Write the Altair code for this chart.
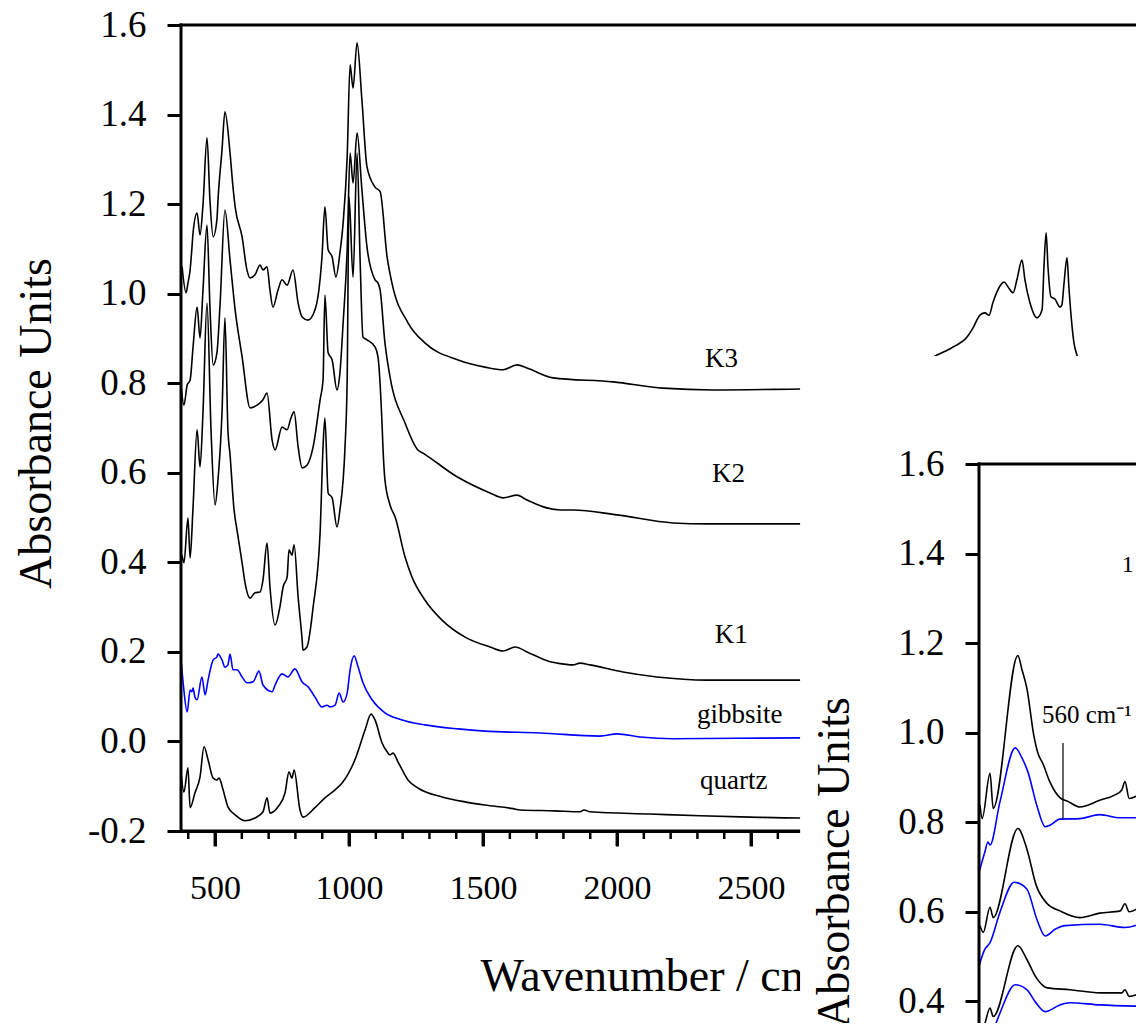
import altair as alt
import pandas as pd

FONT = "Liberation Serif"

# ---------------- main panel spectra: (wavenumber / cm-1, absorbance) ----------------
K3 = [(377, 1.060), (392, 1.002), (399, 1.024), (407, 1.053), (414, 1.104), (418, 1.136), (433, 1.180),
      (444, 1.131), (455, 1.198), (470, 1.348), (481, 1.209), (493, 1.127), (507, 1.165), (511, 1.209),
      (526, 1.321), (537, 1.406), (556, 1.314), (567, 1.238), (575, 1.194), (601, 1.127), (619, 1.053),
      (631, 1.035), (649, 1.042), (668, 1.064), (679, 1.053), (694, 1.060), (705, 1.008), (716, 0.970),
      (735, 1.008), (750, 1.031), (769, 1.019), (791, 1.053), (810, 0.979), (825, 0.948), (847, 0.941),
      (873, 0.964), (884, 0.993), (899, 1.082), (910, 1.194), (922, 1.098), (937, 1.082), (951, 1.037),
      (966, 1.091), (978, 1.158), (993, 1.305), (1004, 1.511), (1015, 1.459), (1030, 1.560), (1048, 1.433),
      (1067, 1.283), (1097, 1.238), (1116, 1.228), (1142, 1.082), (1160, 1.024), (1220, 0.935), (1283, 0.890),
      (1407, 0.852), (1507, 0.836), (1575, 0.830), (1627, 0.841), (1664, 0.834), (1761, 0.812), (1985, 0.803),
      (2172, 0.789), (2358, 0.785), (2683, 0.787), (2944, 0.789), (3194, 0.863), (3254, 0.881), (3306, 0.903),
      (3328, 0.923), (3354, 0.952), (3373, 0.957), (3388, 0.952), (3403, 0.981), (3429, 1.017), (3444, 1.026),
      (3459, 1.015), (3478, 1.002), (3492, 1.031), (3511, 1.075), (3522, 1.031), (3541, 0.979), (3567, 0.946),
      (3586, 0.964), (3593, 1.060), (3601, 1.136), (3608, 1.060), (3619, 0.993), (3634, 0.988), (3653, 0.970),
      (3660, 0.975), (3668, 1.024), (3679, 1.080), (3686, 1.015), (3698, 0.926), (3705, 0.890), (3716, 0.863),
      (3765, 0.774), (3877, 0.774)]

K2 = [(373, 0.796), (384, 0.751), (396, 0.796), (407, 0.807), (418, 0.881), (433, 0.970), (444, 0.901),
      (455, 1.008), (470, 1.153), (481, 0.970), (493, 0.841), (507, 0.868), (519, 0.979), (537, 1.187),
      (556, 1.075), (575, 0.964), (601, 0.859), (631, 0.745), (657, 0.751), (679, 0.763), (694, 0.778),
      (713, 0.673), (724, 0.651), (750, 0.702), (769, 0.696), (783, 0.722), (795, 0.736), (810, 0.658),
      (825, 0.611), (843, 0.617), (866, 0.658), (892, 0.763), (903, 0.807), (910, 0.997), (922, 0.868),
      (937, 0.852), (955, 0.785), (966, 0.823), (978, 0.935), (993, 1.098), (1004, 1.314), (1015, 1.247),
      (1030, 1.359), (1048, 1.232), (1067, 1.104), (1097, 1.031), (1108, 1.024), (1116, 1.008), (1134, 0.890),
      (1153, 0.814), (1209, 0.711), (1257, 0.651), (1276, 0.644), (1403, 0.591), (1526, 0.555), (1575, 0.544),
      (1627, 0.550), (1664, 0.539), (1787, 0.517), (1836, 0.517), (2000, 0.506), (2209, 0.488), (2336, 0.486),
      (2683, 0.486), (2870, 0.486)]

K1 = [(377, 0.416), (384, 0.399), (399, 0.499), (407, 0.410), (418, 0.524), (433, 0.696), (444, 0.613),
      (455, 0.734), (470, 0.979), (485, 0.696), (500, 0.528), (511, 0.584), (526, 0.734), (537, 0.946),
      (548, 0.696), (556, 0.640), (571, 0.517), (582, 0.472), (601, 0.399), (612, 0.354), (631, 0.320),
      (649, 0.332), (668, 0.334), (679, 0.361), (694, 0.443), (705, 0.345), (724, 0.260), (742, 0.300),
      (754, 0.345), (769, 0.367), (776, 0.428), (787, 0.416), (795, 0.439), (810, 0.323), (825, 0.227),
      (828, 0.204), (843, 0.211), (866, 0.300), (892, 0.466), (903, 0.658), (910, 0.722), (922, 0.555),
      (937, 0.544), (955, 0.479), (966, 0.517), (985, 0.658), (993, 0.807), (1000, 1.216), (1015, 1.037),
      (1030, 1.314), (1041, 1.082), (1052, 0.903), (1067, 0.897), (1097, 0.881), (1108, 0.859), (1123, 0.711),
      (1127, 0.651), (1134, 0.584), (1153, 0.528), (1172, 0.501), (1209, 0.412), (1235, 0.367), (1283, 0.316),
      (1347, 0.271), (1433, 0.233), (1526, 0.211), (1575, 0.202), (1620, 0.211), (1664, 0.200), (1750, 0.178),
      (1776, 0.175), (1836, 0.171), (1862, 0.175), (1899, 0.171), (2022, 0.155), (2149, 0.144), (2336, 0.137),
      (2683, 0.137), (2870, 0.137)]

GIBBSITE = [(373, 0.182), (381, 0.131), (396, 0.066), (407, 0.115), (414, 0.111), (418, 0.119), (425, 0.099),
            (433, 0.093), (451, 0.144), (463, 0.104), (474, 0.137), (493, 0.182), (507, 0.189), (511, 0.195),
            (526, 0.182), (537, 0.166), (548, 0.171), (556, 0.195), (567, 0.160), (582, 0.160), (601, 0.144),
            (619, 0.131), (642, 0.133), (664, 0.157), (679, 0.126), (713, 0.111), (724, 0.126), (750, 0.151),
            (772, 0.144), (798, 0.162), (825, 0.133), (847, 0.122), (873, 0.099), (899, 0.077), (918, 0.081),
            (929, 0.077), (948, 0.081), (963, 0.108), (978, 0.088), (993, 0.108), (1004, 0.160), (1019, 0.191),
            (1034, 0.166), (1052, 0.131), (1086, 0.093), (1134, 0.064), (1198, 0.048), (1283, 0.037),
            (1407, 0.028), (1507, 0.023), (1713, 0.019), (1936, 0.012), (2000, 0.017), (2086, 0.010),
            (2209, 0.006), (2683, 0.008), (2870, 0.008)]

QUARTZ = [(373, -0.070), (384, -0.113), (399, -0.059), (407, -0.148), (425, -0.115), (444, -0.079),
          (459, -0.012), (474, -0.041), (493, -0.082), (507, -0.086), (515, -0.082), (530, -0.108),
          (548, -0.146), (575, -0.164), (612, -0.177), (649, -0.171), (679, -0.157), (694, -0.126),
          (705, -0.160), (735, -0.146), (761, -0.115), (776, -0.068), (787, -0.082), (795, -0.064),
          (817, -0.153), (828, -0.169), (873, -0.148), (910, -0.126), (948, -0.108), (974, -0.093),
          (1022, -0.041), (1060, 0.026), (1082, 0.061), (1097, 0.048), (1123, -0.003), (1142, -0.023),
          (1153, -0.030), (1164, -0.026), (1183, -0.046), (1220, -0.086), (1257, -0.104), (1347, -0.124),
          (1433, -0.135), (1507, -0.142), (1612, -0.150), (1638, -0.153), (1768, -0.155), (1862, -0.157),
          (1877, -0.153), (1899, -0.157), (2123, -0.162), (2310, -0.166), (2496, -0.169), (2683, -0.171),
          (2870, -0.171)]

LABEL_TEXT = ["K3", "K2", "K1", "gibbsite", "quartz"]
LABEL_WN = [2328, 2354, 2365, 2298, 2310]
LABEL_AB = [0.836, 0.580, 0.220, 0.041, -0.106]

MAIN_Y_TICKS = [-0.2, 0.0, 0.2, 0.4, 0.6, 0.8, 1.0, 1.2, 1.4, 1.6]
MAIN_X_MAJOR = [500, 1000, 1500, 2000, 2500]
MAIN_X_MINOR = [400, 600, 700, 800, 900, 1100, 1200, 1300, 1400, 1600, 1700, 1800, 1900,
                2100, 2200, 2300, 2400, 2600]

# ---------------- second (overlapping) panel ----------------
P2_BLACK_A = [(402, 0.838), (406, 0.808), (421, 0.909), (427, 0.831), (474, 1.172), (482, 1.140), (491, 1.100),
              (505, 0.990), (512, 0.955), (522, 0.930), (535, 0.890), (545, 0.868), (554, 0.855), (570, 0.846),
              (592, 0.834), (630, 0.849), (659, 0.861), (672, 0.872), (678, 0.891), (686, 0.853), (697, 0.857),
              (714, 0.872)]
P2_BLUE_A = [(400, 0.688), (411, 0.733), (417, 0.756), (421, 0.749), (440, 0.846), (469, 0.966), (482, 0.943),
             (493, 0.913), (510, 0.838), (526, 0.790), (535, 0.793), (554, 0.807), (592, 0.808), (630, 0.817),
             (669, 0.810), (714, 0.810)]
P2_BLACK_B = [(402, 0.569), (408, 0.554), (421, 0.610), (427, 0.587), (474, 0.786), (491, 0.741), (509, 0.659),
              (530, 0.618), (554, 0.602), (592, 0.587), (630, 0.597), (669, 0.602), (678, 0.618), (686, 0.600),
              (714, 0.618)]
P2_BLUE_B = [(400, 0.479), (411, 0.516), (421, 0.531), (440, 0.599), (467, 0.666), (491, 0.651), (510, 0.584),
             (526, 0.546), (545, 0.561), (564, 0.569), (630, 0.572), (678, 0.565), (714, 0.576)]
P2_BLACK_C = [(402, 0.351), (408, 0.344), (421, 0.385), (427, 0.366), (474, 0.524), (491, 0.494), (509, 0.453),
              (530, 0.430), (573, 0.426), (630, 0.419), (672, 0.419), (678, 0.426), (686, 0.411), (714, 0.422)]
P2_BLUE_C = [(410, 0.280), (425, 0.327), (440, 0.374), (469, 0.437), (491, 0.426), (509, 0.396), (526, 0.377),
             (554, 0.392), (573, 0.397), (630, 0.392), (714, 0.389)]
P2_Y_TICKS = [0.4, 0.6, 0.8, 1.0, 1.2, 1.4, 1.6]
P2_MARK_WN = 560
P2_MARK_AB = (0.808, 0.977)
P2_TEXT = ["560 cm\u207b\u00b9", "1"]
P2_TEXT_WN = [520, 672]
P2_TEXT_AB = [1.022, 1.359]
P2_TEXT_SIZE = [25, 24]

# ---------------- scale geometry ----------------
W, H = 955, 998
PX_PER_WN = 134 / 500.0
PX_PER_AB = 89.556 / 0.2
X_LO = 373.0
X_HI = X_LO + W / PX_PER_WN
Y_HI = 1.6
Y_LO = Y_HI - H / PX_PER_AB
Y_AXIS_AT = -0.2
MASK_WN, MASK_AB = 2683.0, 0.861          # white panel of the overlapping figure
X_AXIS_OFFSET = -192                      # main x axis sits at -0.2
MAJOR_LEN, MINOR_LEN = 15, 8              # tick lengths in px

P2_LEFT_PX = 798                          # panel-2 y axis, px right of main y axis
P2_TOP_PX = 439                           # panel-2 top, px below main top
P2_WN_PER_PX = 160 / 84.0
P2X_LO = 400 - P2_LEFT_PX * P2_WN_PER_PX
P2X_HI = 400 + (W - P2_LEFT_PX) * P2_WN_PER_PX
P2Y_HI = 1.6 + P2_TOP_PX / PX_PER_AB
P2Y_LO = P2Y_HI - H / PX_PER_AB


def to_df(series):
    rows = []
    for name, pts in series.items():
        for i, (w, a) in enumerate(pts):
            rows.append({"series": name, "idx": i, "wn": w, "ab": a})
    return pd.DataFrame(rows)


xm = alt.Scale(domain=[X_LO, X_HI], nice=False, zero=False)
ym = alt.Scale(domain=[Y_LO, Y_HI], nice=False, zero=False)
xp = alt.Scale(domain=[P2X_LO, P2X_HI], nice=False, zero=False)
yp = alt.Scale(domain=[P2Y_LO, P2Y_HI], nice=False, zero=False)

ylabel_expr = "datum.value < 0 ? '-' + format(-datum.value, '.1f') : format(datum.value, '.1f')"

x_axis_major = alt.Axis(
    orient="bottom", values=MAIN_X_MAJOR, format="d", ticks=True,
    tickSize=MAJOR_LEN, tickWidth=3, tickColor="black",
    domainWidth=3, domainColor="black",
    offset=X_AXIS_OFFSET, grid=False, labelFlush=False, labelOverlap=False,
    labelFont=FONT, labelFontSize=34, labelColor="black", labelPadding=25,
    title="Wavenumber / cm\u207b\u00b9", titleFont=FONT, titleFontSize=46, titleFontWeight="normal",
    titleColor="black", titleX=299, titleY=159, titleAlign="left", titleBaseline="alphabetic", titleAngle=0,
)
y_axis_main = alt.Axis(
    orient="left", values=MAIN_Y_TICKS, labelExpr=ylabel_expr, domain=False, grid=False,
    tickSize=14, tickWidth=3, tickColor="black", labelOverlap=False, labelFlush=False,
    labelFont=FONT, labelFontSize=37, labelColor="black", labelPadding=21,
    title="Absorbance Units", titleFont=FONT, titleFontSize=46, titleFontWeight="normal",
    titleColor="black", titleX=-131, titleY=398, titleAngle=270, titleAlign="center",
    titleBaseline="alphabetic",
)
y_axis_p2 = alt.Axis(
    orient="left", offset=-P2_LEFT_PX, zindex=1,
    values=P2_Y_TICKS, labelExpr=ylabel_expr, domain=False, grid=False,
    tickSize=14, tickWidth=3, tickColor="black", labelOverlap=False, labelFlush=False,
    labelFont=FONT, labelFontSize=37, labelColor="black", labelPadding=21,
    title="Absorbance Units", titleFont=FONT, titleFontSize=46, titleFontWeight="normal",
    titleColor="black", titleX=-131, titleY=P2_TOP_PX + 398, titleAngle=270, titleAlign="center",
    titleBaseline="alphabetic",
)

LINE = dict(strokeWidth=1.6, interpolate="monotone")

# ---------------- main panel layers ----------------
main_black = alt.Chart(to_df({"K3": K3, "K2": K2, "K1": K1, "quartz": QUARTZ})).mark_line(
    color="black", **LINE).encode(
    x=alt.X("wn:Q", scale=xm, axis=x_axis_major),
    y=alt.Y("ab:Q", scale=ym, axis=y_axis_main),
    detail="series:N", order="idx:Q")

main_blue = alt.Chart(to_df({"gibbsite": GIBBSITE})).mark_line(
    color="#0000ff", **LINE).encode(
    x=alt.X("wn:Q", scale=xm, axis=None),
    y=alt.Y("ab:Q", scale=ym, axis=None),
    order="idx:Q")

main_labels = alt.Chart(pd.DataFrame({"t": LABEL_TEXT, "wn": LABEL_WN, "ab": LABEL_AB})).mark_text(
    font=FONT, fontSize=27, align="left", baseline="alphabetic", color="black").encode(
    x=alt.X("wn:Q", scale=xm, axis=None), y=alt.Y("ab:Q", scale=ym, axis=None), text="t:N")

main_frame = alt.Chart(pd.DataFrame({
    "x": [X_LO, X_LO], "x2": [X_HI, X_LO], "y": [Y_HI, Y_AXIS_AT], "y2": [Y_HI, Y_HI]})).mark_rule(
    color="black", strokeWidth=3, strokeCap="square").encode(
    x=alt.X("x:Q", scale=xm, axis=None), x2="x2:Q",
    y=alt.Y("y:Q", scale=ym, axis=None), y2="y2:Q")

mask = alt.Chart(pd.DataFrame({"x": [MASK_WN], "x2": [X_HI], "y": [Y_LO], "y2": [MASK_AB]})).mark_rect(
    color="white", opacity=1).encode(
    x=alt.X("x:Q", scale=xm, axis=None), x2="x2:Q",
    y=alt.Y("y:Q", scale=ym, axis=None), y2="y2:Q")


def tick_layer(values, length, width):
    # vertical tick rules hanging below the -0.2 axis line
    df = pd.DataFrame({"x": values})
    df["lo"] = Y_AXIS_AT - length / PX_PER_AB
    df["hi"] = Y_AXIS_AT
    return alt.Chart(df).mark_rule(color="black", strokeWidth=width).encode(
        x=alt.X("x:Q", scale=xm, axis=None),
        y=alt.Y("lo:Q", scale=ym, axis=None), y2="hi:Q")


major_ticks = tick_layer(MAIN_X_MAJOR, MAJOR_LEN, 3)
minor_ticks = tick_layer(MAIN_X_MINOR, MINOR_LEN, 2.5)

# bottom axis line of the main panel, up to the edge of the overlapping figure
bottom_line = alt.Chart(pd.DataFrame({"x": [X_LO], "x2": [MASK_WN], "y": [Y_AXIS_AT]})).mark_rule(
    color="black", strokeWidth=3).encode(
    x=alt.X("x:Q", scale=xm, axis=None), x2="x2:Q",
    y=alt.Y("y:Q", scale=ym, axis=None))

# ---------------- second panel layers ----------------
p2_black = alt.Chart(to_df({"A": P2_BLACK_A, "B": P2_BLACK_B, "C": P2_BLACK_C})).mark_line(
    color="black", **LINE).encode(
    x=alt.X("wn:Q", scale=xp, axis=None),
    y=alt.Y("ab:Q", scale=yp, axis=y_axis_p2),
    detail="series:N", order="idx:Q")

p2_blue = alt.Chart(to_df({"A": P2_BLUE_A, "B": P2_BLUE_B, "C": P2_BLUE_C})).mark_line(
    color="#0000ff", **LINE).encode(
    x=alt.X("wn:Q", scale=xp, axis=None),
    y=alt.Y("ab:Q", scale=yp, axis=None),
    detail="series:N", order="idx:Q")

p2_frame = alt.Chart(pd.DataFrame({
    "x": [400, 400], "x2": [400, P2X_HI], "y": [P2Y_LO, 1.6], "y2": [1.6, 1.6]})).mark_rule(
    color="black", strokeWidth=3, strokeCap="square").encode(
    x=alt.X("x:Q", scale=xp, axis=None), x2="x2:Q",
    y=alt.Y("y:Q", scale=yp, axis=None), y2="y2:Q")

p2_marker = alt.Chart(pd.DataFrame({"x": [P2_MARK_WN], "y": [P2_MARK_AB[0]], "y2": [P2_MARK_AB[1]]})).mark_rule(
    color="black", strokeWidth=1.2).encode(
    x=alt.X("x:Q", scale=xp, axis=None),
    y=alt.Y("y:Q", scale=yp, axis=None), y2="y2:Q")

p2_text = alt.Chart(pd.DataFrame({"t": P2_TEXT, "wn": P2_TEXT_WN, "ab": P2_TEXT_AB,
                                  "s": P2_TEXT_SIZE})).mark_text(
    font=FONT, align="left", baseline="alphabetic", color="black").encode(
    x=alt.X("wn:Q", scale=xp, axis=None), y=alt.Y("ab:Q", scale=yp, axis=None), text="t:N",
    size=alt.Size("s:Q", scale=None, legend=None))

chart = alt.layer(
    main_black, main_blue, main_labels, main_frame, mask,
    p2_black, p2_blue, p2_frame, p2_marker, p2_text,
    bottom_line, major_ticks, minor_ticks,
).resolve_scale(
    x="independent", y="independent"
).properties(
    width=W, height=H,
    padding={"left": 173, "top": 17, "right": 0, "bottom": 0},
    autosize=alt.AutoSizeParams(type="none"),
    background="white",
).configure_view(stroke=None)

chart.save("out.html", embed_options={"renderer": "svg", "actions": False})
